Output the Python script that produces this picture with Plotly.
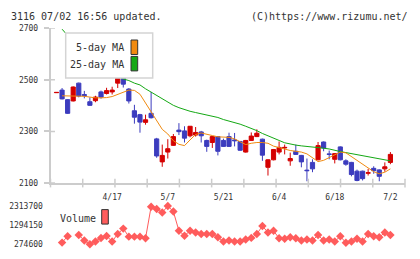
import plotly.graph_objects as go

W, H = 420, 259

# ---------------- data ----------------
day_index = list(range(61))
tick_days = [10, 20, 30, 40, 50, 60]
tick_labels = ["4/17", "5/7", "5/21", "6/4", "6/18", "7/2"]

open_ = [2450, 2460, 2423, 2418, 2487, 2443, 2415, 2419, 2453, 2447, 2453, 2487, 2507, 2464, 2380, 2365,
         2335, 2370, 2271, 2182, 2220, 2246, 2305, 2302, 2283, 2286, 2298, 2265, 2257, 2280, 2265, 2280,
         2267, 2261, 2220, 2265, 2280, 2270, 2161, 2190, 2220, 2236, 2186, 2223, 2207, 2150, 2180, 2190,
         2259, 2213, 2192, 2240, 2186, 2180, 2146, 2146, 2138, 2157, 2151, 2155, 2180]
high = [2451, 2468, 2425, 2474, 2489, 2457, 2432, 2438, 2458, 2469, 2473, 2510, 2510, 2468, 2403, 2368,
        2365, 2453, 2275, 2249, 2270, 2290, 2332, 2320, 2321, 2317, 2302, 2268, 2282, 2282, 2272, 2295,
        2294, 2263, 2267, 2296, 2308, 2272, 2192, 2232, 2261, 2249, 2218, 2249, 2209, 2195, 2192, 2259,
        2261, 2226, 2216, 2242, 2192, 2182, 2152, 2148, 2155, 2165, 2153, 2180, 2220]
low = [2450, 2424, 2368, 2416, 2432, 2428, 2399, 2413, 2427, 2443, 2443, 2468, 2470, 2408, 2330, 2295,
       2326, 2350, 2198, 2163, 2195, 2244, 2286, 2257, 2277, 2280, 2257, 2221, 2236, 2207, 2240, 2240,
       2242, 2225, 2218, 2263, 2278, 2186, 2129, 2188, 2211, 2211, 2167, 2209, 2161, 2107, 2142, 2188,
       2223, 2192, 2176, 2188, 2167, 2126, 2107, 2110, 2129, 2136, 2107, 2144, 2173]
close = [2451, 2426, 2370, 2472, 2437, 2439, 2401, 2433, 2433, 2458, 2460, 2506, 2483, 2418, 2355, 2336,
         2345, 2353, 2205, 2207, 2233, 2280, 2299, 2274, 2320, 2296, 2283, 2242, 2280, 2223, 2242, 2242,
         2264, 2227, 2265, 2282, 2293, 2208, 2190, 2230, 2238, 2238, 2195, 2211, 2182, 2148, 2155, 2245,
         2236, 2211, 2214, 2190, 2173, 2133, 2110, 2117, 2140, 2148, 2126, 2163, 2211]

ma5 = [None, 2438, 2438, 2438, 2437, 2436, 2433, 2430, 2430, 2431, 2435, 2444, 2453, 2460, 2459, 2444,
       2410, 2376, 2340, 2308, 2290, 2264, 2250, 2245, 2267, 2288, 2294, 2290, 2284, 2279, 2279, 2277,
       2271, 2261, 2249, 2254, 2257, 2257, 2254, 2243, 2237, 2231, 2226, 2223, 2220, 2213, 2199, 2183,
       2188, 2198, 2208, 2220, 2217, 2202, 2188, 2173, 2156, 2144, 2136, 2142, 2155]
ma25 = [None, 2696, 2670, 2647, 2627, 2608, 2590, 2573, 2557, 2542, 2528, 2515, 2503, 2497, 2487, 2480,
        2465, 2452, 2440, 2429, 2416, 2401, 2392, 2384, 2378, 2373, 2369, 2363, 2358, 2354, 2346, 2341,
        2333, 2328, 2320, 2313, 2303, 2292, 2282, 2273, 2265, 2256, 2251, 2247, 2244, 2242, 2241, 2238,
        2235, 2232, 2226, 2222, 2218, 2214, 2208, 2205, 2202, 2196, 2192, 2190, 2186]

volume = [None, 367000, 711000, None, 773000, 480000, 274600, 429000, 618000, 721000, 429000, 829000,
          1112000, 685000, 685000, 685000, 598000, 2278000, 2160000, 1970000, 2313700, 2021000, 994000,
          737000, 994000, 906000, 824000, 824000, 824000, 649600, 428700, 480000, 428700, 428700, 531400,
          618700, 824200, 1250500, 906400, 993700, 598200, 567400, 649600, 598200, 480000, 531400, 480000,
          772800, 480000, 531400, 428700, 700900, 361900, 428700, 567400, 428700, 824200, 700900, 649600,
          906400, 772800]

price_ticks = [2100, 2300, 2500, 2700]
vol_ticks = [274600, 1294150, 2313700]
vol_tick_labels = ["274600", "1294150", "2313700"]

for arr in (open_, high, low, close, ma5, ma25, volume):
    assert len(arr) == len(day_index)

# ---------------- style ----------------
RED = "#d40000"
BLUE = "#3c3cbe"
ORANGE = "#f08a10"
GREEN = "#14a814"
VOLC = "#ff5c5c"
AXC = "#cccccc"
TXT = "#333333"
FONT = "DejaVu Sans Mono"


def px(x):
    return x / W


def py(y):
    return 1 - y / H


X_LEFT, X_RIGHT = 50.5, 405.0
X0_PIX, STEP = 56.5, 5.565
xr = [(X_LEFT - X0_PIX) / STEP, (X_RIGHT - X0_PIX) / STEP]

fig = go.Figure()
fig.add_trace(go.Candlestick(
    x=day_index, open=open_, high=high, low=low, close=close,
    increasing=dict(line=dict(color=RED, width=1), fillcolor=RED),
    decreasing=dict(line=dict(color=BLUE, width=1), fillcolor=BLUE),
    whiskerwidth=0, xaxis="x", yaxis="y", hoverinfo="skip"))
fig.add_trace(go.Scatter(x=day_index, y=ma25, mode="lines", line=dict(color=GREEN, width=1),
                         xaxis="x", yaxis="y", hoverinfo="skip"))
fig.add_trace(go.Scatter(x=day_index, y=ma5, mode="lines", line=dict(color=ORANGE, width=1),
                         xaxis="x", yaxis="y", hoverinfo="skip"))
fig.add_trace(go.Scatter(x=day_index, y=volume, mode="lines+markers", connectgaps=False,
                         line=dict(color=VOLC, width=1),
                         marker=dict(symbol="diamond", size=6.5, color=VOLC, line=dict(width=0)),
                         cliponaxis=False, xaxis="x", yaxis="y2", hoverinfo="skip"))

shapes = []
# x ticks crossing the axis line
for k in range(12):
    xp = X_LEFT + k * (X_RIGHT - X_LEFT) / 11
    shapes.append(dict(type="line", xref="paper", yref="paper", x0=px(xp), x1=px(xp),
                       y0=py(181), y1=py(190), line=dict(color=AXC, width=1.5)))
# inner part of y ticks
for v in price_ticks:
    shapes.append(dict(type="line", xref="paper", yref="y", x0=px(X_LEFT), x1=px(55),
                       y0=v, y1=v, line=dict(color=AXC, width=1.5)))
# MA legend box
shapes.append(dict(type="rect", xref="paper", yref="paper", x0=px(65.7), x1=px(152.7),
                   y0=py(76.7), y1=py(30), fillcolor="white", line=dict(color="#d4d4d4", width=1.5),
                   layer="above"))
shapes.append(dict(type="rect", xref="paper", yref="paper", x0=px(131), x1=px(137.7),
                   y0=py(52.3), y1=py(37.3), fillcolor=ORANGE, line=dict(color=TXT, width=1)))
shapes.append(dict(type="rect", xref="paper", yref="paper", x0=px(131), x1=px(137.7),
                   y0=py(69.3), y1=py(54.3), fillcolor=GREEN, line=dict(color=TXT, width=1)))
# Volume legend swatch
shapes.append(dict(type="rect", xref="paper", yref="paper", x0=px(101.7), x1=px(108.3),
                   y0=py(228), y1=py(213), fillcolor=VOLC, line=dict(color=TXT, width=1)))

annotations = [
    dict(text="3116 07/02 16:56 updated.", x=px(8.5), y=py(13), xanchor="left", yanchor="middle"),
    dict(text="(C)https://www.rizumu.net/", x=px(410), y=py(13), xanchor="right", yanchor="middle"),
    dict(text="5-day MA", x=px(125.5), y=py(45.5), xanchor="right", yanchor="middle"),
    dict(text="25-day MA", x=px(125.5), y=py(62.5), xanchor="right", yanchor="middle"),
    dict(text="Volume", x=px(57.5), y=py(222), xanchor="left", yanchor="middle"),
]
for a in annotations:
    a.update(xref="paper", yref="paper", showarrow=False,
             font=dict(family=FONT, size=10, color=TXT))

tickfont = dict(family=FONT, size=8, color=TXT)

fig.update_layout(
    width=W, height=H, margin=dict(l=0, r=0, t=0, b=0),
    paper_bgcolor="white", plot_bgcolor="white", showlegend=False,
    boxgap=0.25, boxgroupgap=0,
    xaxis=dict(domain=[px(X_LEFT), px(X_RIGHT)], range=xr, anchor="y",
               showline=True, linecolor=AXC, linewidth=1.5, showgrid=False, zeroline=False,
               ticks="outside", ticklen=6, tickcolor="rgba(0,0,0,0)",
               tickvals=tick_days, ticktext=tick_labels, tickfont=tickfont,
               rangeslider=dict(visible=False), fixedrange=True),
    yaxis=dict(domain=[py(185.5), py(25)], range=[2100, 2700], anchor="x",
               showline=True, linecolor=AXC, linewidth=1.5, showgrid=False, zeroline=False,
               ticks="outside", ticklen=5, tickcolor=AXC, tickwidth=1.5,
               tickvals=price_ticks, tickfont=tickfont, ticklabelstandoff=4, fixedrange=True),
    yaxis2=dict(domain=[py(249), py(209.3)], range=[274600, 2313700], anchor="x",
                showline=False, showgrid=False, zeroline=False,
                ticks="outside", ticklen=5, tickcolor="rgba(0,0,0,0)",
                tickvals=vol_ticks, ticktext=vol_tick_labels, tickfont=tickfont, fixedrange=True),
    shapes=shapes, annotations=annotations,
)

fig.write_html("out.html")
